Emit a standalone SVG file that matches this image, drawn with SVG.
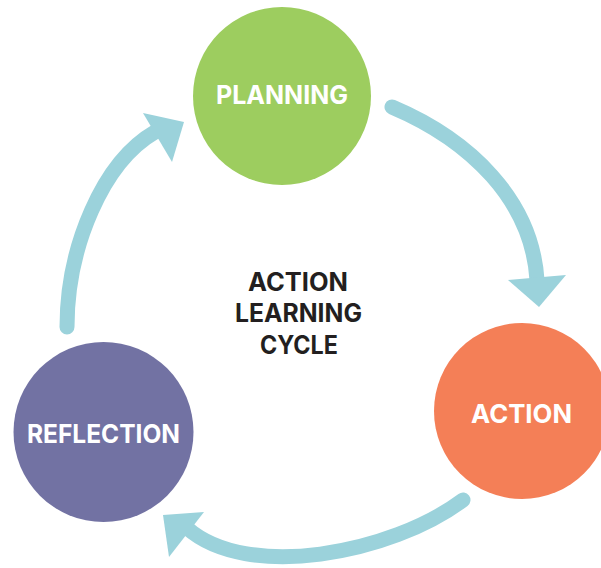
<svg xmlns="http://www.w3.org/2000/svg" width="601" height="568" viewBox="0 0 601 568">
<style>
.arc{fill:none;stroke:#9BD2DB;stroke-width:15;stroke-linecap:round}
.head{fill:#9BD2DB}
.lbl{font-family:Inter,"Liberation Sans",sans-serif;font-weight:700;font-size:26px;fill:#ffffff;text-anchor:middle}
.title{font-family:Inter,"Liberation Sans",sans-serif;font-weight:700;font-size:25px;fill:#231F20;text-anchor:middle}
</style>
<rect width="601" height="568" fill="#ffffff"/>
<g id="connectors">
<path class="arc" d="M392,107 C470,140 532,200 537,280"/>
<polygon class="head" points="508,280 566,275 539,307"/>
<path class="arc" d="M463,500 C391,554 247,581 187,528"/>
<polygon class="head" points="204,512 169,557 163,515"/>
<path class="arc" d="M67,327 C67,247 103,162 155,132"/>
<polygon class="head" points="143,113 172,162 184,122"/>
</g>
<g id="planning">
<circle cx="282" cy="96" r="89" fill="#9DCD5F"/>
<text class="lbl" x="282" y="104" textLength="132" lengthAdjust="spacingAndGlyphs">PLANNING</text>
</g>
<g id="action">
<circle cx="522" cy="411" r="88" fill="#F47F57"/>
<text class="lbl" x="521.5" y="423" textLength="101" lengthAdjust="spacingAndGlyphs">ACTION</text>
</g>
<g id="reflection">
<circle cx="103.5" cy="432" r="90" fill="#7272A3"/>
<text class="lbl" x="103.5" y="443" textLength="153" lengthAdjust="spacingAndGlyphs">REFLECTION</text>
</g>
<g id="title">
<text class="title" x="298" y="291" textLength="100" lengthAdjust="spacingAndGlyphs">ACTION</text>
<text class="title" x="298.5" y="322" textLength="127" lengthAdjust="spacingAndGlyphs">LEARNING</text>
<text class="title" x="299" y="354" textLength="78" lengthAdjust="spacingAndGlyphs">CYCLE</text>
</g>
</svg>
